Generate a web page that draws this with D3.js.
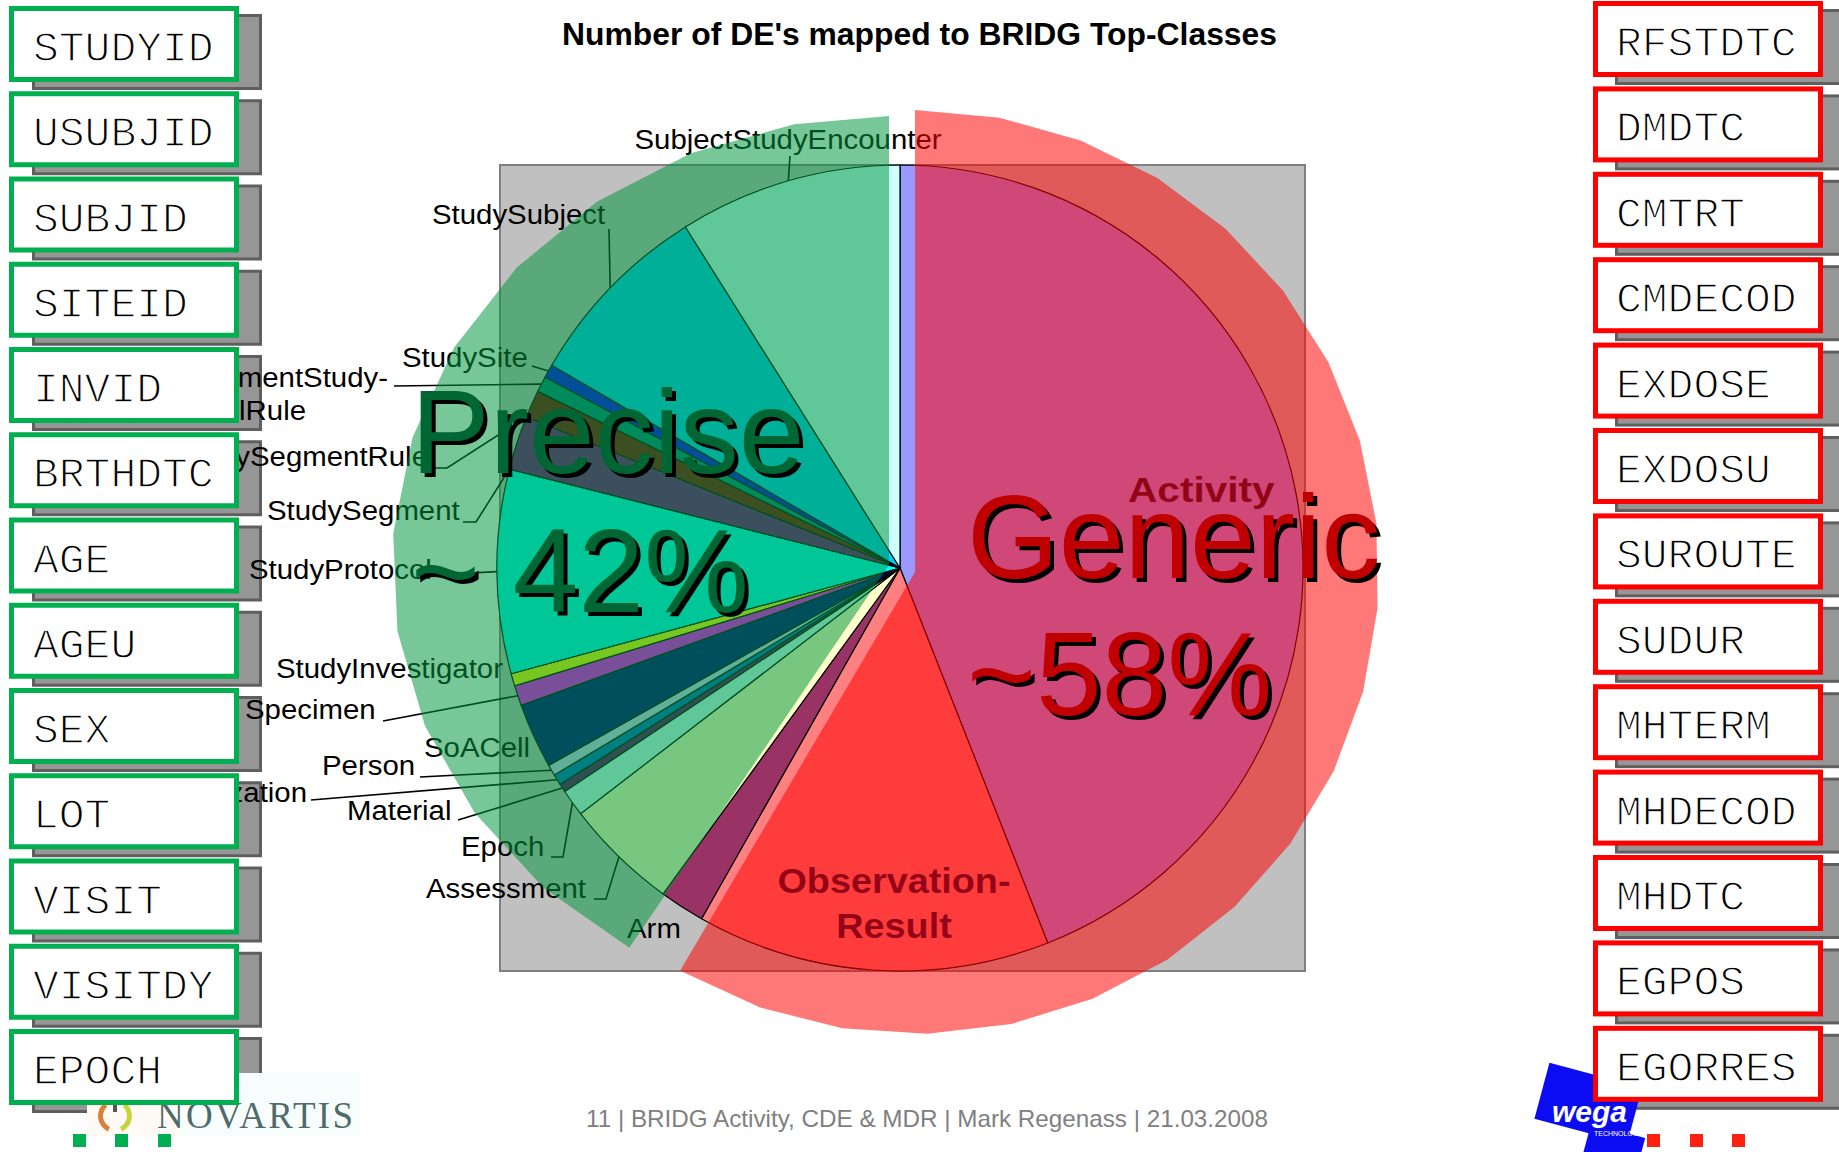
<!DOCTYPE html>
<html>
<head>
<meta charset="utf-8">
<script src="https://cdnjs.cloudflare.com/ajax/libs/d3/7.8.5/d3.min.js"></script>
<style>
  html, body { margin: 0; padding: 0; background: #fff; overflow: hidden; }
  svg { display: block; }
</style>
</head>
<body>
<svg id="slide" width="1839" height="1152"></svg>
<script>
// pie slices, clockwise from 12 o'clock (share of mapped DEs, %)
const classes = ['Activity', 'Observation-Result', 'Arm', 'Assessment', 'Epoch', 'Material',
  'Organization', 'Person', 'SoACell', 'Specimen', 'StudyInvestigator', 'StudyProtocol',
  'StudySegment', 'StudySegmentRule', 'StudySegmentStudy-CellRule', 'StudySite',
  'StudySubject', 'SubjectStudyEncounter'];
const shares = [44.03, 14.17, 1.81, 4.56, 1.08, 0.33, 0.44, 0.44, 2.61, 0.81, 0.5, 8.17,
  2.17, 1.11, 0.64, 0.53, 7.67, 8.94];
const sliceColors = ['#9999ff', '#ff8080', '#993366', '#ffffcc', '#ccffff', '#660066',
  '#0066cc', '#ccccff', '#000080', '#ff00ff', '#ffff00', '#00ffff', '#800080', '#800000',
  '#008080', '#0000ff', '#00ccff', '#ccffff'];

// SDTM variables in the side boxes
const preciseVars = ['STUDYID', 'USUBJID', 'SUBJID', 'SITEID', 'INVID', 'BRTHDTC', 'AGE',
  'AGEU', 'SEX', 'LOT', 'VISIT', 'VISITDY', 'EPOCH'];
const genericVars = ['RFSTDTC', 'DMDTC', 'CMTRT', 'CMDECOD', 'EXDOSE', 'EXDOSU', 'SUROUTE',
  'SUDUR', 'MHTERM', 'MHDECOD', 'MHDTC', 'EGPOS', 'EGORRES'];

const title = "Number of DE's mapped to BRIDG Top-Classes";
const footer = '11 | BRIDG Activity, CDE & MDR | Mark Regenass | 21.03.2008';

// where the excel data labels sit (layout only); tipAt = where on the slice edge the leader ends
const labelSpots = {
  'SubjectStudyEncounter': { x: 788, y: 149, anchor: 'middle', leader: [[790, 156]] },
  'StudySubject': { x: 432, y: 224, anchor: 'start', leader: [[609, 229]] },
  'StudySite': { x: 402, y: 367, anchor: 'start', leader: [[532, 366]] },
  'StudySegmentStudy-CellRule': { x: 388, y: 387, anchor: 'end', lines: ['StudySegmentStudy-', 'CellRule'], lineX: [0, -82], leader: [[394, 386]] },
  'StudySegmentRule': { x: 428, y: 466, anchor: 'end', leader: [[434, 468], [447, 468]], tipAt: 0 },
  'StudySegment': { x: 267, y: 520, anchor: 'start', leader: [[463, 522], [476, 522]], tipAt: 0 },
  'StudyProtocol': { x: 249, y: 579, anchor: 'start', leader: [[432, 575]] },
  'StudyInvestigator': { x: 276, y: 678, anchor: 'start' },
  'Specimen': { x: 245, y: 719, anchor: 'start', leader: [[383, 721]] },
  'SoACell': { x: 424, y: 757, anchor: 'start' },
  'Person': { x: 322, y: 775, anchor: 'start', leader: [[420, 777]] },
  'Organization': { x: 307, y: 802, anchor: 'end', leader: [[311, 800]] },
  'Material': { x: 347, y: 820, anchor: 'start', leader: [[458, 820]] },
  'Epoch': { x: 461, y: 856, anchor: 'start', leader: [[551, 857], [563, 857]] },
  'Assessment': { x: 426, y: 898, anchor: 'start', leader: [[594, 899], [606, 899]] },
  'Arm': { x: 627, y: 938, anchor: 'start' },
  'Activity': { x: 1128, y: 502, anchor: 'start', bold: true, stretch: 1.16 },
  'Observation-Result': { x: 894, y: 893, anchor: 'middle', bold: true, lines: ['Observation-', 'Result'] }
};

const svg = d3.select('#slide');
const sans = '"Liberation Sans", Arial, sans-serif';
const mono = '"Courier New", "Liberation Mono", monospace';
const rad = Math.PI / 180;

svg.append('rect').attr('width', 1839).attr('height', 1152).attr('fill', '#fff');

// shadows of the boxes sit under everything else
const boxW = 230, boxH = 76;
const leftTop = i => 6 + 85.25 * i;
const rightTop = i => 1 + 85.4 * i;

function shadows(list, x0, topFn, dx) {
    svg.append('g').selectAll('rect')
        .data(list)
        .enter()
        .append('rect')
        .attr('x', x0 + dx + 1.5)
        .attr('y', (d, i) => topFn(i) + 8 + 1.5)
        .attr('width', boxW - 3)
        .attr('height', boxH - 3)
        .attr('fill', '#969696')
        .attr('stroke', '#5f5f5f')
        .attr('stroke-width', 3);
}
shadows(preciseVars, 9, leftTop, 23);
shadows(genericVars, 1593, rightTop, 22);

// plot area
svg.append('rect')
    .attr('x', 500).attr('y', 165)
    .attr('width', 805).attr('height', 806)
    .attr('fill', '#c0c0c0')
    .attr('stroke', '#808080')
    .attr('stroke-width', 2);

const cx = 900, cy = 568, radius = 403;
const pie = d3.pie().sort(null).value(d => d);
const arcs = pie(shares);
const arc = d3.arc().innerRadius(0).outerRadius(radius);
const edgeArc = d3.arc().innerRadius(radius).outerRadius(radius);

const chart = svg.append('g').attr('transform', `translate(${cx}, ${cy})`);

chart.selectAll('path')
    .data(arcs)
    .enter()
    .append('path')
    .attr('d', arc)
    .attr('fill', (d, i) => sliceColors[i])
    .attr('stroke', '#000')
    .attr('stroke-width', 1.2)
    .attr('stroke-linejoin', 'round');

// labels + leader lines
const labels = svg.append('g');
classes.forEach((name, i) => {
    const spot = labelSpots[name];
    if (!spot) return;
    if (spot.leader) {
        const a = arcs[i];
        const f = spot.tipAt === undefined ? 0.5 : spot.tipAt;
        const mid = a.startAngle + (a.endAngle - a.startAngle) * f;
        const tip = edgeArc.centroid({ startAngle: mid, endAngle: mid });
        const pts = spot.leader.concat([[tip[0] + cx, tip[1] + cy]]);
        labels.append('path')
            .attr('d', d3.line()(pts))
            .attr('fill', 'none')
            .attr('stroke', '#000')
            .attr('stroke-width', 1.6);
    }
    const lines = spot.lines || [name];
    const sx = spot.stretch || (spot.bold ? 1.08 : 1.05);
    const t = labels.append('text')
        .attr('transform', `translate(${spot.x}, ${spot.y}) scale(${sx}, 1)`)
        .attr('text-anchor', spot.anchor)
        .style('font-family', sans)
        .style('font-size', spot.bold ? '35px' : '28px')
        .style('font-weight', spot.bold ? 'bold' : 'normal')
        .style('fill', spot.bold ? '#1a0a33' : '#000');
    lines.forEach((l, k) => {
        t.append('tspan')
            .attr('x', spot.lineX ? spot.lineX[k] / sx : 0)
            .attr('y', k * (spot.bold ? 45 : 33))
            .text(l);
    });
});

// title
svg.append('text')
    .attr('x', 562).attr('y', 45)
    .attr('textLength', 715)
    .attr('lengthAdjust', 'spacingAndGlyphs')
    .style('font-family', sans)
    .style('font-size', '32px')
    .style('font-weight', 'bold')
    .text(title);

// the two hand-drawn highlight shapes
function sector(o, step) {
    const angles = d3.range(o.from, o.to, step).concat([o.to]);
    const pts = [[o.cx, o.cy]].concat(angles.map(a =>
        [o.cx + o.rx * Math.sin(a * rad), o.cy - o.ry * Math.cos(a * rad)]));
    return d3.line()(pts) + 'Z';
}
svg.append('path')
    .attr('d', sector({ cx: 889, cy: 565, rx: 497, ry: 449, from: 211.5, to: 360 }, 12.5))
    .attr('fill', 'rgb(0, 150, 60)')
    .attr('fill-opacity', 0.53);
svg.append('path')
    .attr('d', sector({ cx: 915, cy: 572, rx: 464, ry: 462, from: 0, to: 210.4 }, 10.5))
    .attr('fill', 'rgb(255, 0, 0)')
    .attr('fill-opacity', 0.53);

// big shadowed captions
function bigText(str, x, y, color) {
    [[4, 4, '#000'], [0, 0, color]].forEach(([dx, dy, c]) => {
        svg.append('text')
            .attr('x', x + dx).attr('y', y + dy)
            .style('font-family', sans)
            .style('font-size', '118px')
            .style('fill', c)
            .text(str);
    });
}
bigText('Precise', 411, 473, '#006633');
bigText('~ 42%', 411, 612, '#006633');
bigText('Generic', 967, 578, '#c00000');
bigText('~58%', 967, 715, '#c00000');

// logos (drawn before the boxes, the EGORRES box covers part of wega)
const nov = svg.append('g');
nov.append('rect').attr('x', 87).attr('y', 1073).attr('width', 93).attr('height', 64).attr('fill', '#fffaf6');
nov.append('rect').attr('x', 180).attr('y', 1073).attr('width', 180).attr('height', 64).attr('fill', '#f7fdfc');
const flame = d3.arc().innerRadius(12).outerRadius(17);
nov.append('path')
    .attr('transform', 'translate(115, 1116)')
    .attr('d', flame({ startAngle: 205 * rad, endAngle: 320 * rad }))
    .attr('fill', '#d9803a');
nov.append('path')
    .attr('transform', 'translate(115, 1116)')
    .attr('d', flame({ startAngle: 40 * rad, endAngle: 155 * rad }))
    .attr('fill', '#c6d43c');
nov.append('rect').attr('x', 113).attr('y', 1101).attr('width', 4).attr('height', 11).attr('fill', '#555');
nov.append('text')
    .attr('x', 157).attr('y', 1128)
    .attr('textLength', 196)
    .attr('lengthAdjust', 'spacing')
    .style('font-family', '"Liberation Serif", "Times New Roman", serif')
    .style('font-size', '37px')
    .style('fill', '#2f4f4f')
    .style('fill-opacity', 0.85)
    .text('NOVARTIS');

const wega = svg.append('g').attr('transform', 'translate(1587, 1108) rotate(15)');
wega.append('rect').attr('x', -48).attr('y', -34).attr('width', 96).attr('height', 58).attr('fill', '#0c0cf2');
wega.append('rect').attr('x', 8).attr('y', 14).attr('width', 56).attr('height', 48).attr('fill', '#0c0cf2');
svg.append('text')
    .attr('x', 1552).attr('y', 1122)
    .style('font-family', sans)
    .style('font-size', '30px')
    .style('font-weight', 'bold')
    .style('font-style', 'italic')
    .style('fill', '#fff')
    .text('wega');
svg.append('text')
    .attr('x', 1594).attr('y', 1136)
    .style('font-family', sans)
    .style('font-size', '7px')
    .style('fill', '#fff')
    .text('TECHNOLOGY');

// variable boxes
function boxes(list, x0, topFn, color, tx) {
    const g = svg.append('g').selectAll('g')
        .data(list)
        .enter()
        .append('g');
    g.append('rect')
        .attr('x', x0 + 2.5)
        .attr('y', (d, i) => topFn(i) + 2.5)
        .attr('width', boxW - 5)
        .attr('height', boxH - 5)
        .attr('fill', '#fff')
        .attr('stroke', color)
        .attr('stroke-width', 5);
    // white outline thins the glyphs towards the light courier look
    g.append('text')
        .attr('x', tx)
        .attr('y', (d, i) => topFn(i) + 55)
        .style('font-family', mono)
        .style('font-size', '43px')
        .style('fill', '#000')
        .style('stroke', '#fff')
        .style('stroke-width', 1.4)
        .text(d => d);
}
boxes(preciseVars, 9, leftTop, '#00b050', 33);
boxes(genericVars, 1593, rightTop, '#ff0000', 1616);

// footer
svg.append('text')
    .attr('x', 586).attr('y', 1127)
    .attr('textLength', 682)
    .attr('lengthAdjust', 'spacingAndGlyphs')
    .style('font-family', sans)
    .style('font-size', '24px')
    .style('fill', '#808080')
    .text(footer);

// bullet squares
svg.append('g').selectAll('rect')
    .data([73, 115, 158])
    .enter().append('rect')
    .attr('x', d => d).attr('y', 1134).attr('width', 13).attr('height', 13)
    .attr('fill', '#00b050');
svg.append('g').selectAll('rect')
    .data([1647, 1690, 1732])
    .enter().append('rect')
    .attr('x', d => d).attr('y', 1134).attr('width', 13).attr('height', 13)
    .attr('fill', '#ff2010');
</script>
</body>
</html>
